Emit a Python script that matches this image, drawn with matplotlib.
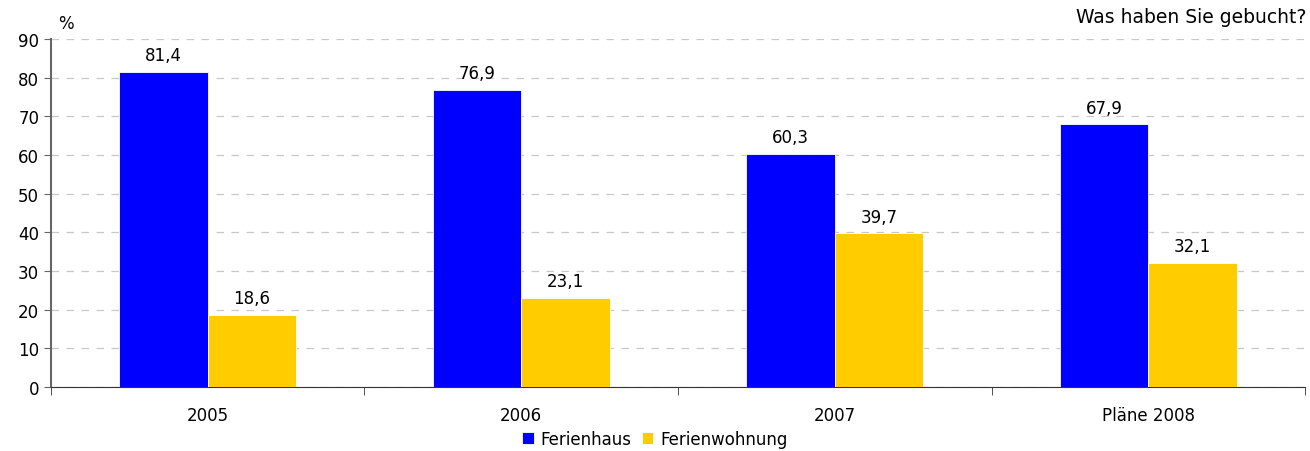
import numpy as np
import matplotlib.pyplot as plt

categories = ['2005', '2006', '2007', 'Pläne 2008']
ferienhaus = [81.4, 76.9, 60.3, 67.9]
ferienwohnung = [18.6, 23.1, 39.7, 32.1]

plt.rcParams['font.family'] = ['DejaVu Sans']

fig = plt.figure(figsize=(13.1, 4.52), dpi=100)
ax = fig.add_axes([0.0389, 0.1416, 0.9573, 0.77])

x = np.arange(len(categories))
w = 0.283
b1 = ax.bar(x - w / 2, ferienhaus, w, color='#0000ff', edgecolor='white', linewidth=0.6, label='Ferienhaus', zorder=3)
b2 = ax.bar(x + w / 2, ferienwohnung, w, color='#ffcc00', edgecolor='white', linewidth=0.6, label='Ferienwohnung', zorder=3)

for bars, vals in [(b1, ferienhaus), (b2, ferienwohnung)]:
    for r, v in zip(bars, vals):
        ax.text(r.get_x() + r.get_width() / 2, v + 2.0, f'{v:.1f}'.replace('.', ','),
                ha='center', va='bottom', fontsize=12)

ax.set_xlim(-0.5, len(categories) - 0.5)
ax.set_ylim(0, 90)
ax.set_yticks(range(0, 91, 10))
ax.set_xticks(x)
ax.set_xticklabels(categories, fontsize=12)
ax.set_xticks(np.arange(-0.5, len(categories), 1), minor=True)
ax.tick_params(axis='x', which='major', length=0, pad=14)
ax.tick_params(axis='x', which='minor', length=6, color='#333333')
ax.tick_params(axis='y', labelsize=12, length=5, color='#666666')

ax.grid(axis='y', linestyle=(0, (6, 6)), color='#c8c8c8', linewidth=0.9, zorder=0)
ax.spines['top'].set_visible(False)
ax.spines['right'].set_visible(False)
ax.spines['left'].set_color('#666666')
ax.spines['left'].set_linewidth(1.5)
ax.spines['bottom'].set_color('#333333')

ax.text(0.006, 1.02, '%', transform=ax.transAxes, fontsize=12, ha='left', va='bottom')
fig.text(0.997, 0.962, 'Was haben Sie gebucht?', ha='right', va='center', fontsize=13.5)

fig.legend(loc='center', bbox_to_anchor=(0.5, 0.027), ncol=2, frameon=False,
           fontsize=12, handlelength=0.7, handleheight=0.7, handletextpad=0.4,
           columnspacing=0.6, borderpad=0)

fig.savefig('out.png', dpi=100)
